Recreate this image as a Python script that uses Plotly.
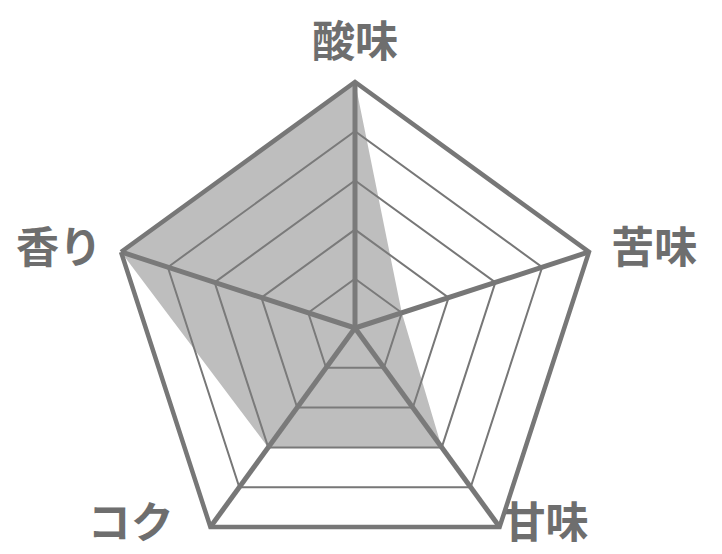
import plotly.graph_objects as go

categories = ["酸味", "苦味", "甘味", "コク", "香り"]
values = [5, 1, 3, 3, 5]
grid_levels = [1, 2, 3, 4, 5]
label_positions = ["top center", "middle right", "middle right", "middle left", "middle left"]
label_offsets = [22, 34, 3, 57, 29]  # invisible marker sizes that push each label away from its vertex

W, H = 722, 600
R = 246
cx, cy = 347, 320  # polar centre in figure pixels (page has an 8px body margin)

fig = go.Figure()
fig.add_trace(go.Scatterpolar(
    r=values + values[:1],
    theta=categories + categories[:1],
    mode="lines",
    fill="toself",
    fillcolor="rgba(126,126,126,0.5)",
    line=dict(color="rgba(0,0,0,0)", width=0),
    hoverinfo="skip",
    showlegend=False,
))
fig.add_trace(go.Scatterpolar(
    r=[grid_levels[-1]] * len(categories),
    theta=categories,
    mode="markers+text",
    text=categories,
    textposition=label_positions,
    marker=dict(size=label_offsets, opacity=0),
    textfont=dict(family="Noto Sans CJK JP", size=43, color="#6e6e6e", weight="bold"),
    cliponaxis=False,
    hoverinfo="skip",
    showlegend=False,
))

fig.update_layout(
    width=W, height=H,
    margin=dict(l=0, r=0, t=0, b=0),
    paper_bgcolor="white",
    plot_bgcolor="white",
    showlegend=False,
    polar=dict(
        domain=dict(x=[(cx - R) / W, (cx + R) / W],
                    y=[(H - cy - R) / H, (H - cy + R) / H]),
        bgcolor="white",
        gridshape="linear",
        radialaxis=dict(
            range=[0, 5],
            tickvals=grid_levels,
            showticklabels=False,
            ticks="",
            showline=False,
            gridcolor="#777777",
            gridwidth=1.5,
        ),
        angularaxis=dict(
            categoryorder="array",
            categoryarray=categories,
            rotation=90,
            direction="clockwise",
            showline=True,
            linecolor="#777777",
            linewidth=4.5,
            gridcolor="#777777",
            gridwidth=4.5,
            ticks="",
            showticklabels=False,
        ),
    ),
)

fig.write_html("out.html")
